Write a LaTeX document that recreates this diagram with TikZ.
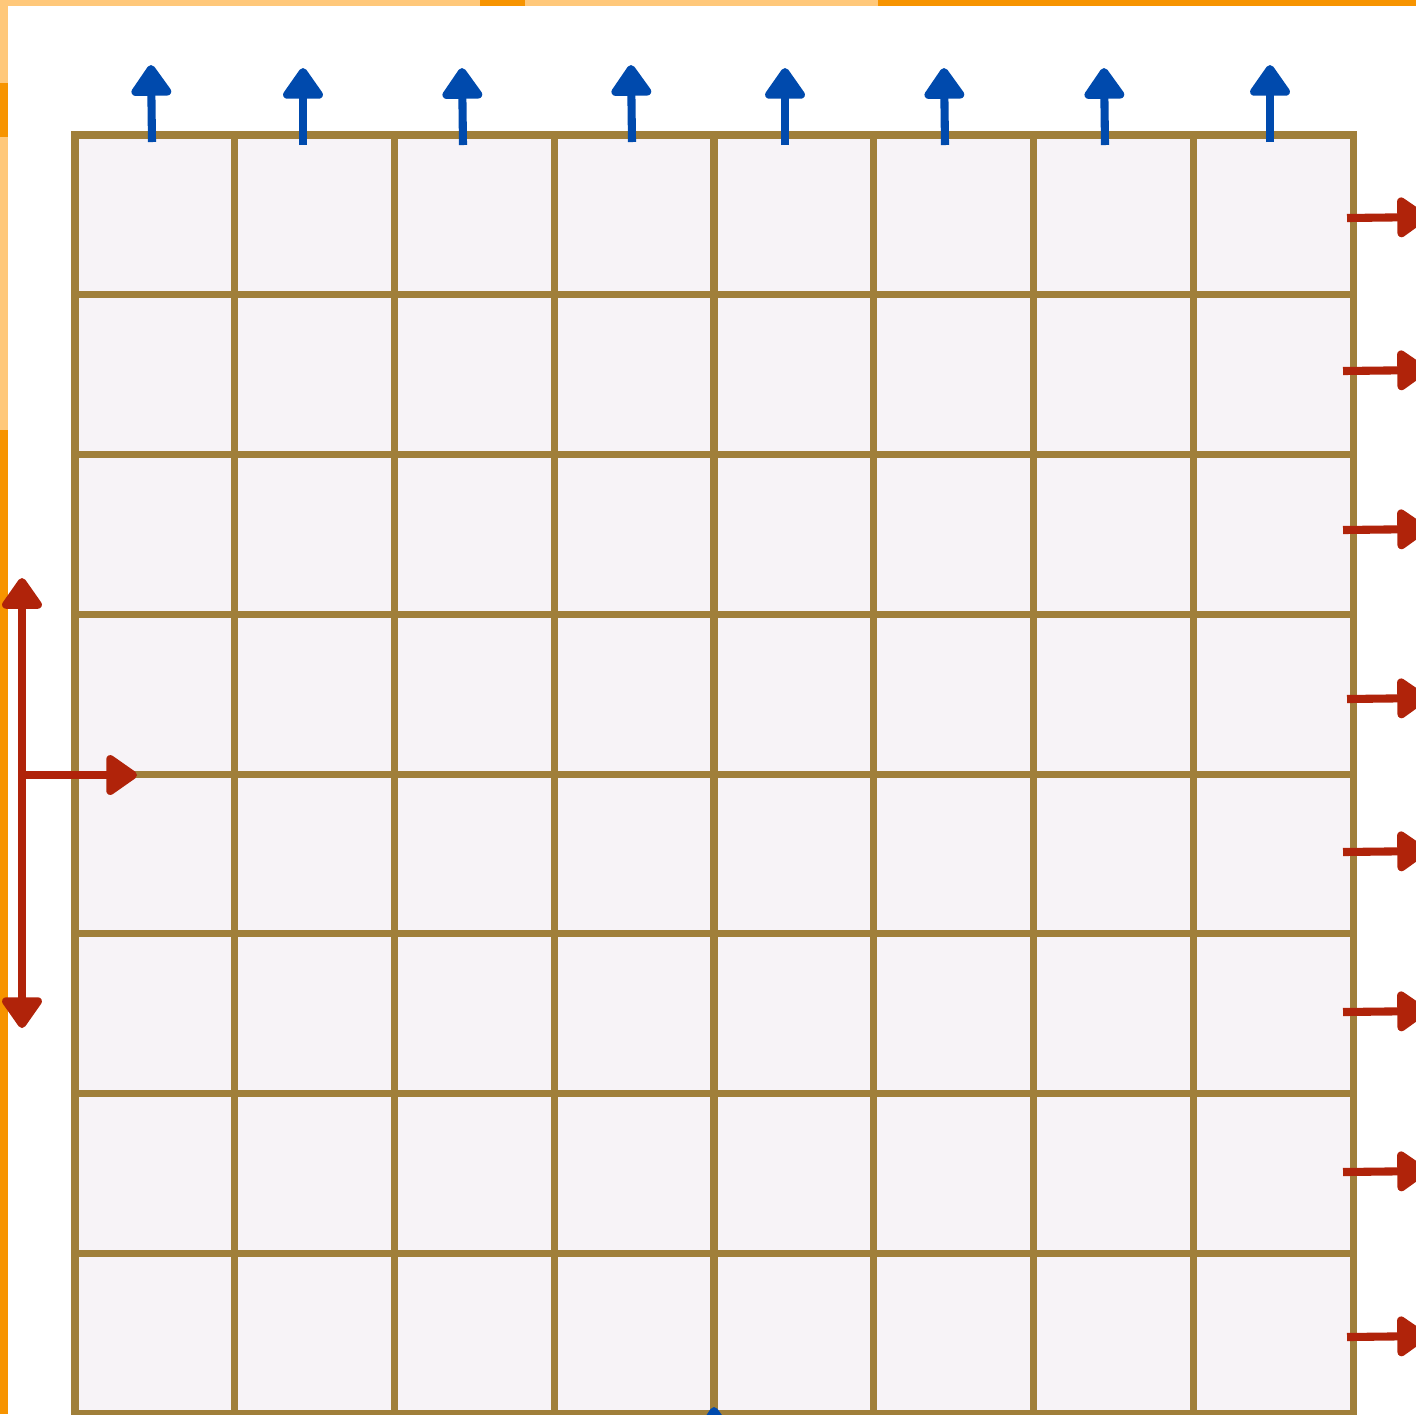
\documentclass[tikz,border=0pt]{standalone}
\usetikzlibrary{arrows.meta}
\definecolor{gridbrown}{HTML}{A07F3A}
\definecolor{cellfill}{HTML}{F7F3F7}
\definecolor{fluxblue}{HTML}{004AAD}
\definecolor{fluxred}{HTML}{B0230A}
\definecolor{rimorange}{HTML}{F79400}
\definecolor{rimlight}{HTML}{FFC87A}

\begin{document}
\begin{tikzpicture}[
    x=0.01cm, y=-0.01cm,
    gridline/.style={draw=gridbrown, line width=2pt, line cap=rect},
    headtip/.style={-{Triangle[length=0.34cm, width=0.45cm, round]}},
    flowup/.style={draw=fluxblue, line width=2.3pt, headtip},
    flowout/.style={draw=fluxred, line width=2.3pt, headtip},
    flowboth/.style={draw=fluxred, line width=2.3pt, {Triangle[length=0.34cm, width=0.45cm, round]}-{Triangle[length=0.34cm, width=0.45cm, round]}}
  ]
  \def\cell{159.75}
  \useasboundingbox (0,0) rectangle (1416,1414);
  \clip (0,0) rectangle (1416,1414);

  % rim of the page behind
  \fill[rimlight] (0,0) rectangle (480,6);
  \fill[rimorange] (480,0) rectangle (525,6);
  \fill[rimlight] (525,0) rectangle (878,6);
  \fill[rimorange] (878,0) rectangle (1416,6);
  \fill[rimlight] (0,0) rectangle (8,83);
  \fill[rimorange] (0,83) rectangle (8,137);
  \fill[rimlight] (0,137) rectangle (8,430);
  \fill[rimorange] (0,430) rectangle (8,1414);

  % the cells
  \fill[cellfill] (75,135) rectangle (1353,1413);
  \foreach \i in {0,...,8} {
    \draw[gridline] (75+\i*\cell,135) -- (75+\i*\cell,1420);
    \draw[gridline] (75,135+\i*\cell) -- (1353,135+\i*\cell);
  }

  % outflow through the top
  \foreach \xa/\ya/\xb/\yb in {152/142/151/65, 303/145/303/68, 463/145/462/68, 632/142/631/65,
                               785/145/785/68, 945/145/944/68, 1105/145/1104/68, 1270/142/1270/65}
    \draw[flowup] (\xa,\ya) -- (\xb,\yb);
  \draw[flowup] (715,1480) -- (714,1407);

  % outflow through the right side
  \foreach \xa/\ya in {1347/218, 1343/371, 1343/530, 1347/699, 1343/852, 1343/1012, 1343/1172, 1347/1337}
    \draw[flowout] (\xa,\ya) -- (1428,\ya-1);

  % inflow on the left
  \coordinate (inlet) at (22,775);
  \draw[flowboth] (22,578) -- (22,1028);
  \draw[flowout] (inlet) -- (137,775);
\end{tikzpicture}
\end{document}
